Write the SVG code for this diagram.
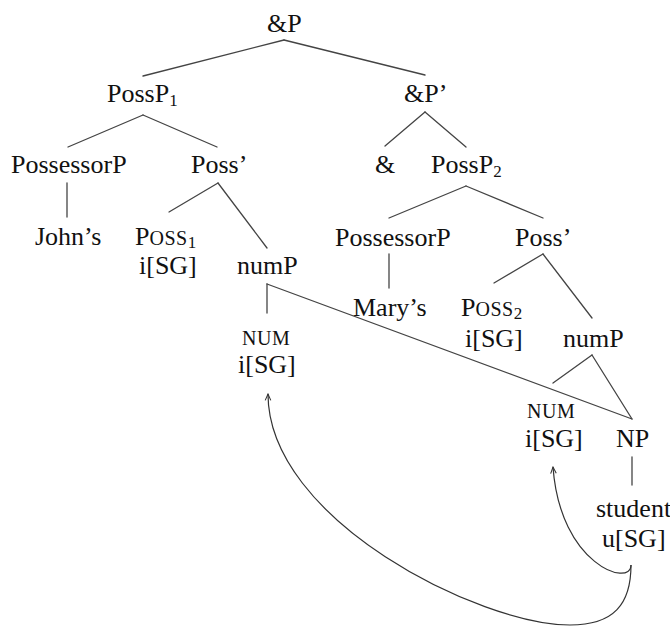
<svg xmlns="http://www.w3.org/2000/svg" width="670" height="626" viewBox="0 0 670 626">
  <style>
    .lbl text { font-family: "Liberation Serif", "DejaVu Serif", serif; font-size: 26px; fill: #111; }
    .lbl .sc { font-size: 20px; letter-spacing: 0.5px; }
    .lbl .sub { font-size: 17px; }
    .edge { stroke: #444; stroke-width: 1.3; fill: none; stroke-linecap: round; }
    .arc { stroke: #333; stroke-width: 1.2; fill: none; }
  </style>
  <defs>
    <marker id="tip" viewBox="0 0 10 10" refX="9" refY="5" markerWidth="8" markerHeight="8" markerUnits="userSpaceOnUse" orient="auto">
      <path d="M1 1.5 L9 5 L1 8.5" fill="none" stroke="#333" stroke-width="1.3"/>
    </marker>
  </defs>

  <rect width="670" height="626" fill="#fff"/>

  <!-- tree branches and agreement arcs -->
  <g id="connectors">
    <line class="edge" x1="284" y1="40" x2="143" y2="76"/>
    <line class="edge" x1="284" y1="40" x2="425" y2="75"/>
    <line class="edge" x1="143" y1="115" x2="68" y2="147"/>
    <line class="edge" x1="143" y1="115" x2="217" y2="147"/>
    <line class="edge" x1="67" y1="183" x2="67" y2="217"/>
    <line class="edge" x1="218" y1="183" x2="169" y2="212"/>
    <line class="edge" x1="218" y1="183" x2="267" y2="248"/>
    <line class="edge" x1="267" y1="284" x2="267" y2="313"/>
    <line class="edge" x1="267" y1="284" x2="632" y2="419"/>
    <line class="edge" x1="425" y1="112" x2="385" y2="146"/>
    <line class="edge" x1="425" y1="112" x2="466" y2="147"/>
    <line class="edge" x1="466" y1="186" x2="389" y2="218"/>
    <line class="edge" x1="466" y1="186" x2="543" y2="218"/>
    <line class="edge" x1="389" y1="254" x2="389" y2="288"/>
    <line class="edge" x1="543" y1="254" x2="494" y2="283"/>
    <line class="edge" x1="543" y1="254" x2="592" y2="318"/>
    <line class="edge" x1="592" y1="355" x2="553" y2="383"/>
    <line class="edge" x1="592" y1="355" x2="632" y2="419"/>
    <line class="edge" x1="632" y1="457" x2="632" y2="485"/>
    <path class="arc" d="M631 565 C631 588 560 565 553 467" marker-end="url(#tip)"/>
    <path class="arc" d="M631 565 C631 604 614 625 570 625 C480 625 268 520 268 394" marker-end="url(#tip)"/>
  </g>

  <g class="lbl" font-family="Liberation Serif, DejaVu Serif, serif">
    <g id="andP"><text x="267" y="32">&amp;P</text></g>
    <g id="possP1"><text x="107" y="102">PossP<tspan class="sub" dy="4">1</tspan></text></g>
    <g id="andPbar"><text x="404" y="102">&amp;P’</text></g>
    <g id="possessorP1"><text x="11" y="173">PossessorP</text></g>
    <g id="possBar1"><text x="191" y="173">Poss’</text></g>
    <g id="and"><text x="375" y="173">&amp;</text></g>
    <g id="possP2"><text x="431" y="173">PossP<tspan class="sub" dy="4">2</tspan></text></g>
    <g id="johns"><text x="35" y="245">John’s</text></g>
    <g id="poss1"><text x="135" y="245">P<tspan class="sc">OSS</tspan><tspan class="sub" dy="3">1</tspan></text><text x="139" y="274">i[SG]</text></g>
    <g id="numP1"><text x="237" y="274">numP</text></g>
    <g id="possessorP2"><text x="335" y="246">PossessorP</text></g>
    <g id="possBar2"><text x="515" y="246">Poss’</text></g>
    <g id="marys"><text x="353" y="316">Mary’s</text></g>
    <g id="poss2"><text x="461" y="316">P<tspan class="sc">OSS</tspan><tspan class="sub" dy="3">2</tspan></text><text x="465" y="347">i[SG]</text></g>
    <g id="numP2"><text x="563" y="347">numP</text></g>
    <g id="num1"><text class="sc" x="242" y="345">NUM</text><text x="238" y="373">i[SG]</text></g>
    <g id="num2"><text class="sc" x="527" y="418">NUM</text><text x="525" y="447">i[SG]</text></g>
    <g id="np"><text x="616" y="447">NP</text></g>
    <g id="student"><text x="596" y="517">student</text><text x="602" y="547">u[SG]</text></g>
  </g>
</svg>
